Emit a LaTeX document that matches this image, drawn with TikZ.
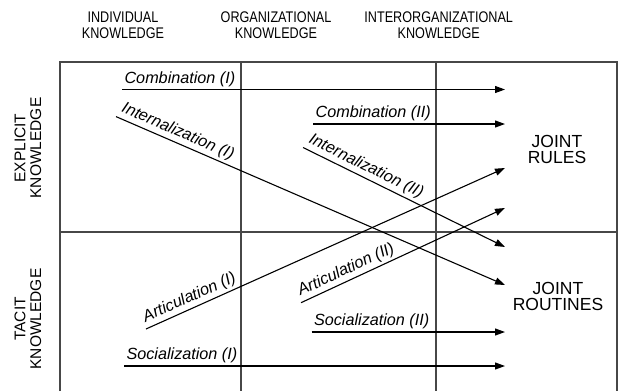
\documentclass[tikz,border=0pt]{standalone}
\usepackage{fontspec}
\setmainfont{Liberation Sans}
\newfontfamily\hdrfont[FakeStretch=0.82]{Liberation Sans}
\usetikzlibrary{arrows.meta}
\begin{document}
\begin{tikzpicture}[x=1pt,y=-1pt,
  gridline/.style={line width=1.6pt, draw=black!72},
  flow/.style={line width=1.1pt, -{Triangle[length=10pt,width=7pt]}},
  lab/.style={font=\fontsize{16.2}{18}\selectfont\itshape, anchor=south west, inner xsep=2pt, inner ysep=2.5pt, sloped},
  hdr/.style={font=\hdrfont\fontsize{15.4}{16.3}\selectfont, align=center, inner sep=0pt},
  side/.style={font=\fontsize{15.5}{15.7}\selectfont, align=center, rotate=90, inner sep=0pt},
  joint/.style={font=\fontsize{17.5}{16}\selectfont, align=center, inner sep=0pt}]
\useasboundingbox (0,0) rectangle (637,391);

% grid
\draw[gridline] (60,391) -- (60,62) -- (617,62) -- (617,391);
\draw[gridline] (241,62) -- (241,391);
\draw[gridline] (436,62) -- (436,391);
\draw[gridline] (60,232) -- (617,232);

% headers
\node[hdr] (h1) at (123,25.3) {INDIVIDUAL\\KNOWLEDGE};
\node[hdr] (h2) at (276,25.3) {ORGANIZATIONAL\\KNOWLEDGE};
\node[hdr] (h3) at (438.7,25.3) {INTERORGANIZATIONAL\\KNOWLEDGE};

\node[side] (s1) at (28,148) {EXPLICIT\\KNOWLEDGE};
\node[side] (s2) at (28,319) {TACIT\\KNOWLEDGE};

\node[joint] (j1) at (557,149.5) {JOINT\\RULES};
\node[joint] (j2) at (558,296.5) {JOINT\\ROUTINES};

% flow coordinates
\coordinate (c1s) at (122,89.5);   \coordinate (c1e) at (505,89.5);
\coordinate (c2s) at (313,124);    \coordinate (c2e) at (505,124);
\coordinate (i1s) at (116,116.6);  \coordinate (i1e) at (505,285);
\coordinate (i2s) at (303,147.5);  \coordinate (i2e) at (505,247);
\coordinate (a1s) at (146,329);    \coordinate (a1e) at (505,168);
\coordinate (a2s) at (301,302.7);  \coordinate (a2e) at (505,208);
\coordinate (s2s) at (311.5,332);  \coordinate (s2e) at (505,332);
\coordinate (s1s) at (124,366);    \coordinate (s1e) at (505,366);

\draw[flow] (c1s) -- (c1e) node[lab,pos=0] (lc1) {Combination (I)};
\draw[flow] (c2s) -- (c2e) node[lab,pos=0] (lc2) {Combination (II)};
\draw[flow] (i1s) -- (i1e) node[lab,pos=0] (li1) {Internalization (I)};
\draw[flow] (i2s) -- (i2e) node[lab,pos=0] (li2) {Internalization (II)};
\draw[flow] (a1s) -- (a1e) node[lab,pos=0] (la1) {Articulation (I)};
\draw[flow] (a2s) -- (a2e) node[lab,pos=0] (la2) {Articulation (II)};
\draw[flow] (s2s) -- (s2e) node[lab,pos=0] (ls2) {Socialization (II)};
\draw[flow] (s1s) -- (s1e) node[lab,pos=0] (ls1) {Socialization (I)};
\end{tikzpicture}
\end{document}
